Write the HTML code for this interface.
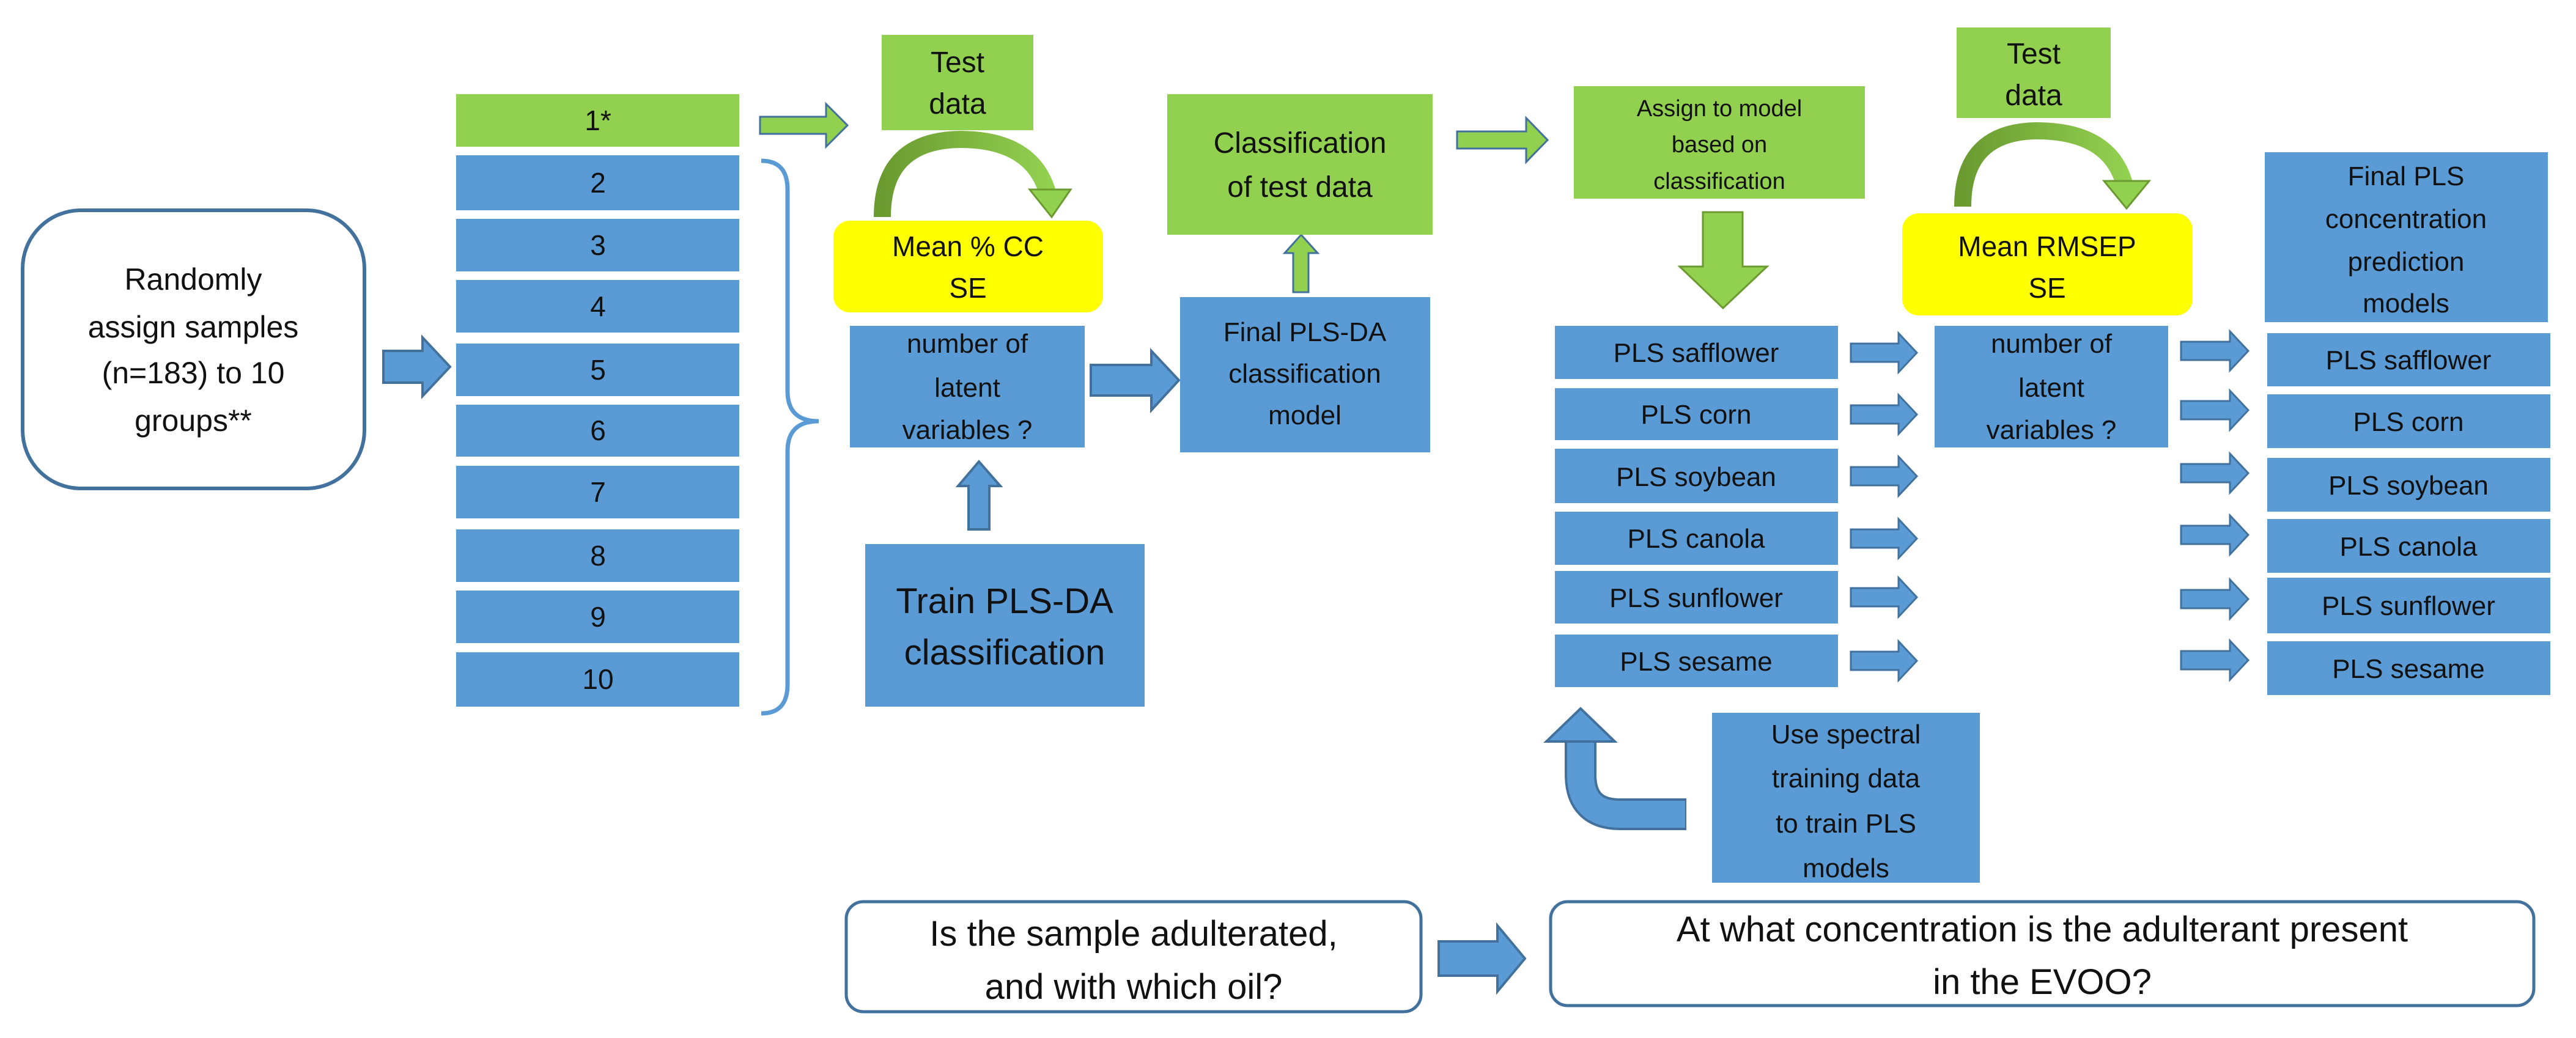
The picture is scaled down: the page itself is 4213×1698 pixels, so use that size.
<!DOCTYPE html>
<html><head><meta charset="utf-8"><style>
html,body{margin:0;padding:0;background:#fff;}
svg{display:block}
text{font-family:"Liberation Sans",sans-serif;fill:#111;text-anchor:middle;}
</style></head><body>
<svg width="4213" height="1698" viewBox="0 0 4213 1698" xmlns="http://www.w3.org/2000/svg">
<defs>
<linearGradient id="g1" x1="0" y1="0" x2="1" y2="0"><stop offset="0" stop-color="#6a9a30"/><stop offset="1" stop-color="#92d050"/></linearGradient>
</defs>
<!-- Randomly box -->
<rect x="37" y="344" width="559" height="455" rx="95" fill="#fff" stroke="#41719c" stroke-width="6"/>
<g font-size="50"><text x="316" y="474">Randomly</text><text x="316" y="552">assign samples</text><text x="316" y="627">(n=183) to 10</text><text x="316" y="705">groups**</text></g>
<!-- group boxes -->
<rect x="746" y="154" width="463" height="86" fill="#92d050"/>
<g fill="#5b9bd5">
<rect x="746" y="254" width="463" height="90"/><rect x="746" y="358" width="463" height="86"/>
<rect x="746" y="458" width="463" height="86"/><rect x="746" y="562" width="463" height="86"/>
<rect x="746" y="662" width="463" height="85"/><rect x="746" y="762" width="463" height="86"/>
<rect x="746" y="866" width="463" height="86"/><rect x="746" y="966" width="463" height="86"/>
<rect x="746" y="1067" width="463" height="89"/>
</g>
<g font-size="46"><text x="978" y="213">1*</text><text x="978" y="315">2</text><text x="978" y="417">3</text><text x="978" y="517">4</text><text x="978" y="621">5</text><text x="978" y="720">6</text><text x="978" y="821">7</text><text x="978" y="925">8</text><text x="978" y="1025">9</text><text x="978" y="1127">10</text></g>
<!-- brace -->
<path d="M1245 263 Q1288 263 1288 310 L1288 640 Q1288 689 1339 689 Q1288 689 1288 738 L1288 1120 Q1288 1167 1245 1167" fill="none" stroke="#5b9bd5" stroke-width="7"/>
<!-- arrows -->
<g stroke="#41719c" stroke-width="4" fill="#5b9bd5">
<polygon points="627,574 691,574 691,552 736,600 691,648 691,626 627,626"/>
<polygon points="1784,597 1883,597 1883,574 1928,622 1883,671 1883,647 1784,647"/>
<polygon points="1584,866 1584,795 1567,795 1601,755 1636,795 1618,795 1618,866"/>
<polygon points="2353,1540 2449,1540 2449,1514 2494,1568 2449,1622 2449,1596 2353,1596"/>
</g>
<g stroke="#41719c" stroke-width="3" fill="#5b9bd5">
<polygon points="3027,562 3105,562 3105,545 3135,577 3105,609 3105,592 3027,592"/>
<polygon points="3027,663 3105,663 3105,646 3135,678 3105,710 3105,693 3027,693"/>
<polygon points="3027,764 3105,764 3105,747 3135,779 3105,811 3105,794 3027,794"/>
<polygon points="3027,866 3105,866 3105,849 3135,881 3105,913 3105,896 3027,896"/>
<polygon points="3027,962 3105,962 3105,945 3135,977 3105,1009 3105,992 3027,992"/>
<polygon points="3027,1066 3105,1066 3105,1049 3135,1081 3105,1113 3105,1096 3027,1096"/>
<polygon points="3567,559 3647,559 3647,542 3677,574 3647,606 3647,589 3567,589"/>
<polygon points="3567,656 3647,656 3647,639 3677,671 3647,703 3647,686 3567,686"/>
<polygon points="3567,759 3647,759 3647,742 3677,774 3647,806 3647,789 3567,789"/>
<polygon points="3567,860 3647,860 3647,843 3677,875 3647,907 3647,890 3567,890"/>
<polygon points="3567,965 3647,965 3647,948 3677,980 3647,1012 3647,995 3567,995"/>
<polygon points="3567,1065 3647,1065 3647,1048 3677,1080 3647,1112 3647,1095 3567,1095"/>
</g>
<g stroke="#41719c" stroke-width="3" fill="#92d050">
<polygon points="1243,191 1351,191 1351,170 1386,205 1351,240 1351,219 1243,219"/>
<polygon points="2383,215 2496,215 2496,193 2531,229 2496,265 2496,243 2383,243"/>
<polygon points="2115,478 2115,414 2101,414 2128,384 2155,414 2140,414 2140,478"/>
</g>
<polygon points="2785,347 2850,347 2850,436 2890,436 2818,504 2747,436 2785,436" fill="#92d050" stroke="#6a9a30" stroke-width="3"/>
<!-- U-turn -->
<path d="M2758 1332 L2650 1332 Q2585 1332 2585 1267 L2585 1205" fill="none" stroke="#41719c" stroke-width="52"/>
<path d="M2756 1332 L2650 1332 Q2585 1332 2585 1267 L2585 1203" fill="none" stroke="#5b9bd5" stroke-width="44"/>
<polygon points="2529,1213 2641,1213 2585,1159" fill="#5b9bd5" stroke="#41719c" stroke-width="4"/>
<!-- test data 1 -->
<rect x="1442" y="57" width="248" height="156" fill="#92d050"/>
<g font-size="48"><text x="1566" y="118">Test</text><text x="1566" y="186">data</text></g>
<path d="M1443 355 Q1443 230 1570 228 Q1690 228 1714 318" fill="none" stroke="url(#g1)" stroke-width="28"/>
<polygon points="1684,310 1751,310 1720,355" fill="#92d050" stroke="#6a9a30" stroke-width="3"/>
<rect x="1363" y="361" width="441" height="150" rx="27" fill="#ffff00"/>
<g font-size="46"><text x="1583" y="419">Mean % CC</text><text x="1583" y="487">SE</text></g>
<rect x="1390" y="533" width="384" height="199" fill="#5b9bd5"/>
<g font-size="44"><text x="1582" y="577">number  of</text><text x="1582" y="649">latent</text><text x="1582" y="718">variables  ?</text></g>
<rect x="1415" y="890" width="457" height="266" fill="#5b9bd5"/>
<g font-size="58"><text x="1643" y="1003">Train PLS-DA</text><text x="1643" y="1087">classification</text></g>
<rect x="1930" y="486" width="409" height="254" fill="#5b9bd5"/>
<g font-size="44"><text x="2134" y="558">Final PLS-DA</text><text x="2134" y="626">classification</text><text x="2134" y="694">model</text></g>
<rect x="1909" y="154" width="434" height="230" fill="#92d050"/>
<g font-size="48"><text x="2126" y="250">Classification</text><text x="2126" y="322">of test data</text></g>
<rect x="2574" y="141" width="476" height="184" fill="#92d050"/>
<g font-size="38"><text x="2812" y="190">Assign to model</text><text x="2812" y="249">based on</text><text x="2812" y="309">classification</text></g>
<!-- PLS list left -->
<g fill="#5b9bd5">
<rect x="2543" y="533" width="463" height="87"/><rect x="2543" y="635" width="463" height="85"/>
<rect x="2543" y="734" width="463" height="89"/><rect x="2543" y="837" width="463" height="87"/>
<rect x="2543" y="934" width="463" height="86"/><rect x="2543" y="1038" width="463" height="86"/>
</g>
<g font-size="44"><text x="2774" y="592">PLS safflower</text><text x="2774" y="693">PLS corn</text><text x="2774" y="795">PLS soybean</text><text x="2774" y="896">PLS canola</text><text x="2774" y="993">PLS sunflower</text><text x="2774" y="1097">PLS sesame</text></g>
<!-- test data 2 -->
<rect x="3200" y="45" width="252" height="148" fill="#92d050"/>
<g font-size="48"><text x="3326" y="104">Test</text><text x="3326" y="172">data</text></g>
<path d="M3210 338 Q3210 216 3330 214 Q3450 214 3474 300" fill="none" stroke="url(#g1)" stroke-width="28"/>
<polygon points="3441,296 3515,296 3478,341" fill="#92d050" stroke="#6a9a30" stroke-width="3"/>
<rect x="3111" y="349" width="475" height="167" rx="27" fill="#ffff00"/>
<g font-size="46"><text x="3348" y="419">Mean RMSEP</text><text x="3348" y="487">SE</text></g>
<rect x="3164" y="533" width="382" height="199" fill="#5b9bd5"/>
<g font-size="44"><text x="3355" y="577">number  of</text><text x="3355" y="649">latent</text><text x="3355" y="718">variables  ?</text></g>
<rect x="3704" y="249" width="463" height="278" fill="#5b9bd5"/>
<g font-size="44"><text x="3935" y="303">Final  PLS</text><text x="3935" y="373">concentration</text><text x="3935" y="443">prediction</text><text x="3935" y="511">models</text></g>
<g fill="#5b9bd5">
<rect x="3708" y="545" width="463" height="87"/><rect x="3708" y="645" width="463" height="88"/>
<rect x="3708" y="749" width="463" height="88"/><rect x="3708" y="849" width="463" height="88"/>
<rect x="3708" y="945" width="463" height="91"/><rect x="3708" y="1049" width="463" height="88"/>
</g>
<g font-size="44"><text x="3939" y="604">PLS safflower</text><text x="3939" y="705">PLS corn</text><text x="3939" y="809">PLS soybean</text><text x="3939" y="909">PLS canola</text><text x="3939" y="1006">PLS sunflower</text><text x="3939" y="1109">PLS sesame</text></g>
<rect x="2800" y="1166" width="438" height="278" fill="#5b9bd5"/>
<g font-size="44"><text x="3019" y="1216">Use spectral</text><text x="3019" y="1288">training data</text><text x="3019" y="1362">to train PLS</text><text x="3019" y="1435">models</text></g>
<!-- bottom boxes -->
<rect x="1384" y="1475" width="940" height="180" rx="28" fill="#fff" stroke="#41719c" stroke-width="5"/>
<g font-size="58"><text x="1854" y="1547">Is the sample adulterated,</text><text x="1854" y="1634">and with which oil?</text></g>
<rect x="2536" y="1475" width="1608" height="170" rx="28" fill="#fff" stroke="#41719c" stroke-width="5"/>
<g font-size="58"><text x="3340" y="1540">At what concentration is the adulterant present</text><text x="3340" y="1626">in the EVOO?</text></g>
</svg>
</body></html>
